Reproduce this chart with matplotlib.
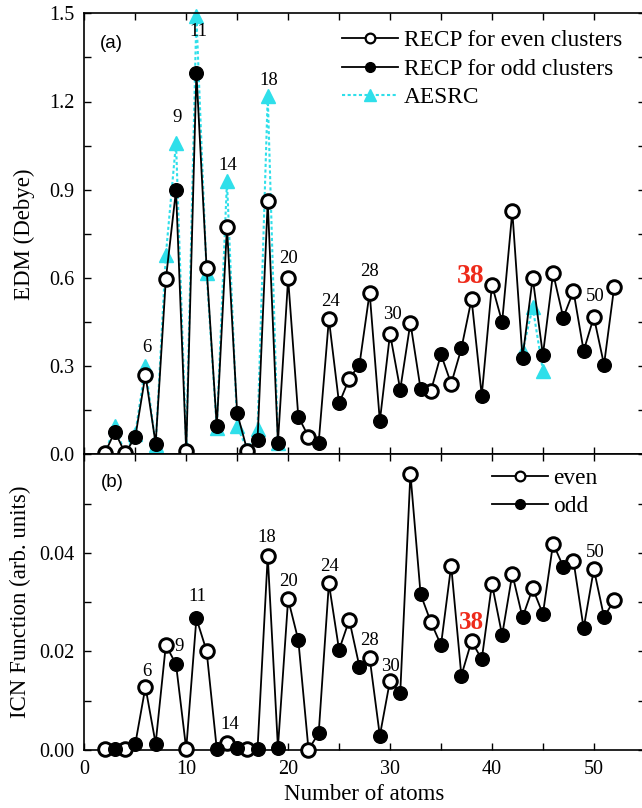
import numpy as np
import matplotlib
matplotlib.use("Agg")
import matplotlib.pyplot as plt
from matplotlib.lines import Line2D
from matplotlib.ticker import MultipleLocator

plt.rcParams['font.family'] = ['Liberation Serif', 'DejaVu Serif']
plt.rcParams['mathtext.fontset'] = 'stix'

# cluster size
n_atoms = np.arange(2, 53)

# (a) electric dipole moment, RECP (N = 2..52)
edm_recp = [0.003, 0.077, 0.004, 0.058, 0.27, 0.036, 0.595, 0.898, 0.01, 1.298,
            0.635, 0.095, 0.773, 0.14, 0.012, 0.05, 0.86, 0.04, 0.598, 0.128,
            0.06, 0.04, 0.46, 0.173, 0.257, 0.305, 0.55, 0.113, 0.41, 0.22,
            0.447, 0.222, 0.214, 0.34, 0.24, 0.36, 0.528, 0.2, 0.576, 0.45,
            0.826, 0.328, 0.60, 0.338, 0.616, 0.465, 0.555, 0.352, 0.467, 0.305,
            0.57]

# (a) AESRC, two ranges
aesrc_n1 = np.arange(2, 20)
aesrc_edm1 = [0.003, 0.095, 0.003, 0.07, 0.30, 0.03, 0.677, 1.06, 0.02, 1.49,
              0.615, 0.09, 0.93, 0.095, 0.015, 0.085, 1.22, 0.04]
aesrc_n2 = [43, 44, 45]
aesrc_edm2 = [0.35, 0.50, 0.285]

# (b) ICN function (N = 2..52)
icn = [0.0002, 0.0002, 0.0002, 0.0012, 0.0128, 0.0013, 0.0213, 0.0174, 0.0002, 0.0267,
       0.0201, 0.0002, 0.0015, 0.0005, 0.0003, 0.0002, 0.0394, 0.0005, 0.0306, 0.0223,
       0.0001, 0.0034, 0.0338, 0.0203, 0.0264, 0.0169, 0.0187, 0.0029, 0.0141, 0.0115,
       0.0561, 0.0316, 0.026, 0.0213, 0.0374, 0.0151, 0.0221, 0.0184, 0.0337, 0.0233,
       0.0357, 0.0269, 0.0328, 0.0276, 0.0419, 0.0372, 0.0384, 0.0247, 0.0367, 0.027,
       0.0304]

# magic-number labels
lab_a = ['6', '9', '11', '14', '18', '20', '24', '28', '30', '50']
lab_a_x = [6.1, 9.1, 11.2, 14.1, 18.1, 20.0, 24.2, 28.0, 30.2, 50.1]
lab_a_y = [0.362, 1.147, 1.437, 0.984, 1.273, 0.667, 0.519, 0.621, 0.474, 0.536]
lab_b = ['6', '9', '11', '14', '18', '20', '24', '28', '30', '50']
lab_b_x = [6.1, 9.3, 11.1, 14.3, 17.9, 20.0, 24.1, 28.0, 30.0, 50.1]
lab_b_y = [0.0159, 0.0210, 0.0311, 0.0051, 0.0432, 0.0341, 0.0373, 0.0223, 0.0169, 0.0400]

cyan = '#2fdfea'
n_atoms = np.asarray(n_atoms)
even = n_atoms % 2 == 0
odd = ~even
edm_recp = np.asarray(edm_recp)
icn = np.asarray(icn)

fig = plt.figure(figsize=(6.42, 8.08), dpi=100)
W, H = 642.0, 808.0
x0, x1 = 84.3, 644.8
ax1 = fig.add_axes([x0 / W, 1 - 454.3 / H, (x1 - x0) / W, (454.3 - 13.3) / H])
ax2 = fig.add_axes([x0 / W, 1 - 750.0 / H, (x1 - x0) / W, (750.0 - 454.3) / H])

ms = 9.8
for ax in (ax1, ax2):
    ax.set_xlim(0, 55)
    ax.xaxis.set_major_locator(MultipleLocator(10))
    ax.xaxis.set_minor_locator(MultipleLocator(5))
    ax.tick_params(which='both', direction='in', top=True, right=True,
                   length=5, width=1.0, labelsize=14.5, pad=7)
    for s in ax.spines.values():
        s.set_linewidth(1.2)

# ---- (a)
ax1.plot(aesrc_n1, aesrc_edm1, color=cyan, lw=1.5, ls=(0, (1.5, 1.2)),
         marker='^', ms=9.5, mfc=cyan, mec=cyan, zorder=2, clip_on=False)
ax1.plot(aesrc_n2, aesrc_edm2, color=cyan, lw=1.5, ls=(0, (1.5, 1.2)),
         marker='^', ms=9.5, mfc=cyan, mec=cyan, zorder=2, clip_on=False)
ax1.plot(n_atoms, edm_recp, color='black', lw=1.3, zorder=3)
ax1.plot(n_atoms[even], edm_recp[even], ls='none', marker='o', ms=ms,
         mfc='white', mec='black', mew=2.1, zorder=4, clip_on=False)
ax1.plot(n_atoms[odd], edm_recp[odd], ls='none', marker='o', ms=ms,
         mfc='black', mec='black', zorder=4, clip_on=False)
ax1.set_ylim(0, 1.5)
ax1.yaxis.set_minor_locator(MultipleLocator(0.15))
ax1.set_yticks([0.0, 0.3, 0.6, 0.9, 1.2, 1.5])
ax1.set_yticklabels(['0.0', '0.3', '0.6', '0.9', '1.2', '1.5'])
ax1.tick_params(labelbottom=False)
ax1.set_ylabel('EDM (Debye)', fontsize=16.5, labelpad=10)

for t, x, y in zip(lab_a, lab_a_x, lab_a_y):
    ax1.text(x, y, t, ha='center', va='center', fontsize=13.5)
ax1.text(37.9, 0.604, '38', ha='center', va='center', fontsize=20,
         fontweight='bold', color='#ee2a1a')
ax1.text(2.7, 1.398, '(a)', ha='center', va='center', fontsize=13.5,
         family=['Liberation Sans', 'DejaVu Sans'])

h_even = Line2D([], [], color='black', lw=1.3, marker='o', ms=7,
                mfc='white', mec='black', mew=1.6)
h_odd = Line2D([], [], color='black', lw=1.3, marker='o', ms=7,
               mfc='black', mec='black')
h_aes = Line2D([], [], color=cyan, lw=1.5, ls=(0, (1.5, 1.2)), marker='^',
               ms=8, mfc=cyan, mec=cyan)
ax1.legend([h_even, h_odd, h_aes],
           ['RECP for even clusters', 'RECP for odd clusters', 'AESRC'],
           loc='upper left', bbox_to_anchor=(0.46, 0.962), frameon=False,
           fontsize=16.8, handlelength=2.4, handletextpad=0.25,
           labelspacing=0.3, borderpad=0, borderaxespad=0)

# ---- (b)
ax2.plot(n_atoms, icn, color='black', lw=1.3, zorder=3)
ax2.plot(n_atoms[even], icn[even], ls='none', marker='o', ms=ms,
         mfc='white', mec='black', mew=2.1, zorder=4, clip_on=False)
ax2.plot(n_atoms[odd], icn[odd], ls='none', marker='o', ms=ms,
         mfc='black', mec='black', zorder=4, clip_on=False)
ax2.set_ylim(0, 0.06)
ax2.yaxis.set_minor_locator(MultipleLocator(0.01))
ax2.set_yticks([0.0, 0.02, 0.04])
ax2.set_yticklabels(['0.00', '0.02', '0.04'])
ax2.set_xticks([0, 10, 20, 30, 40, 50])
ax2.set_xlabel('Number of atoms', fontsize=16.5, labelpad=4)
ax2.set_ylabel('ICN Function (arb. units)', fontsize=16.5, labelpad=6)

for t, x, y in zip(lab_b, lab_b_x, lab_b_y):
    ax2.text(x, y, t, ha='center', va='center', fontsize=13.5)
ax2.text(38.0, 0.0258, '38', ha='center', va='center', fontsize=18,
         fontweight='bold', color='#ee2a1a')
ax2.text(2.7, 0.0543, '(b)', ha='center', va='center', fontsize=13.5,
         family=['Liberation Sans', 'DejaVu Sans'])

ax2.legend([h_even, h_odd], ['even', 'odd'],
           loc='upper left', bbox_to_anchor=(0.727, 0.955), frameon=False,
           fontsize=16.8, handlelength=2.4, handletextpad=0.25,
           labelspacing=0.3, borderpad=0, borderaxespad=0)

fig.savefig('out.png', dpi=100)
